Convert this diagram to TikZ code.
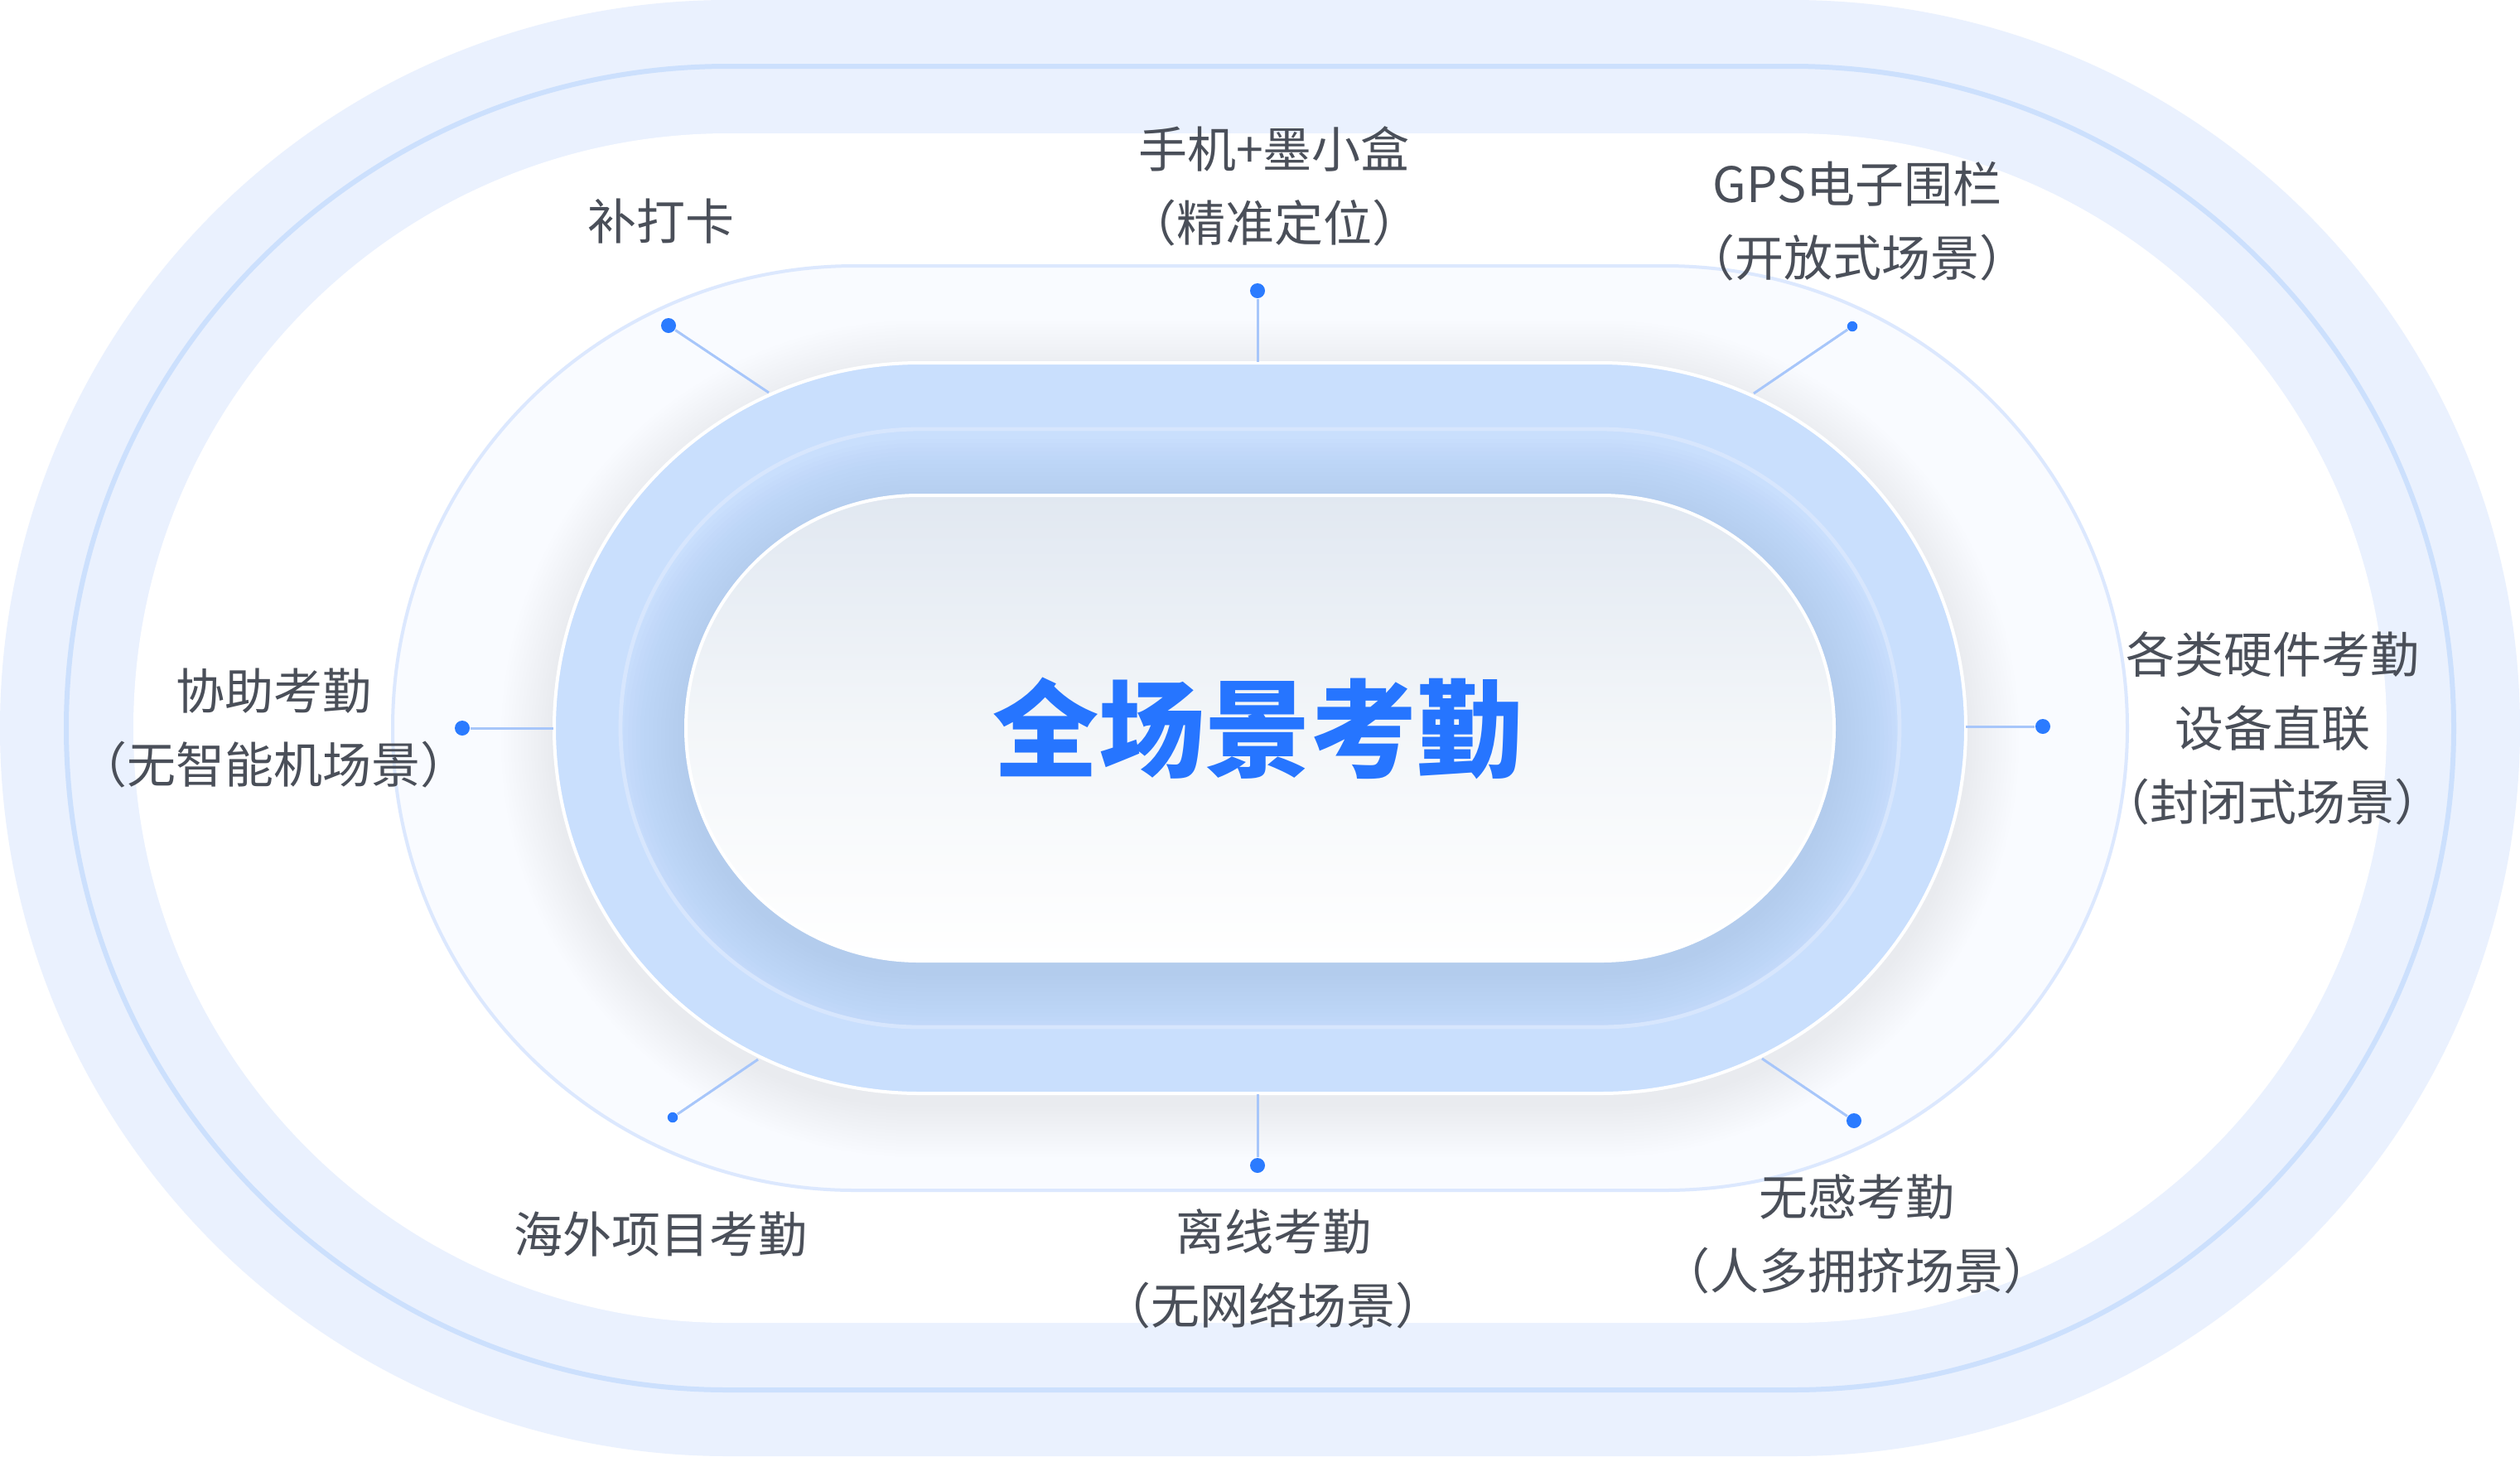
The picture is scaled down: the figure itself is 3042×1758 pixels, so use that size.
\documentclass[tikz,border=0pt]{standalone}
\usepackage{fontspec}
\newfontfamily\cjk{Noto Sans CJK SC}
\definecolor{bandc}{HTML}{EAF1FE}
\definecolor{bandline}{HTML}{CCE0FD}
\definecolor{regc}{HTML}{F9FBFF}
\definecolor{regline}{HTML}{DCE8FE}
\definecolor{bluec}{HTML}{C9DFFD}
\definecolor{blueline}{HTML}{D7E6FD}
\definecolor{shadc}{HTML}{8AA6D6}
\definecolor{hazec}{HTML}{AEB8CC}
\definecolor{pilltop}{HTML}{E1E8F1}
\definecolor{pillmid}{HTML}{F3F6F9}
\definecolor{titlec}{HTML}{2675FF}
\definecolor{lblc}{HTML}{4A4F59}
\definecolor{dotc}{HTML}{2B7BFF}
\definecolor{connc}{HTML}{A7C6FA}
\newcommand\stad[4]{({#1},{#3-(#4)}) -- ({#2},{#3-(#4)}) arc[start angle=-90,end angle=90,radius={#4}] -- ({#1},{#3+(#4)}) arc[start angle=90,end angle=270,radius={#4}] -- cycle}
\begin{document}
\begin{tikzpicture}[x=0.25pt,y=-0.25pt,
  lbl/.style={font=\cjk\fontsize{14.75pt}{22.25pt}\selectfont, text=lblc, align=center, inner sep=0pt},
  dotbig/.style={circle, fill=dotc, minimum size=4.5pt, inner sep=0pt},
  dotsmall/.style={circle, fill=dotc, minimum size=3.1pt, inner sep=0pt},
  conn/.style={draw=connc, line width=0.75pt}]
\useasboundingbox (0,0) rectangle (3042,1758);
\fill[white] (0,0) rectangle (3042,1758);
% outer band
\fill[bandc] \stad{879}{2163}{879}{879};
\draw[bandline, line width=1.5pt] \stad{879}{2163}{879}{799};
\fill[white] \stad{879}{2163}{879}{718};
% second region
\filldraw[fill=regc, draw=regline, line width=1pt] \stad{1032}{2010}{879}{558};
% haze around blue ring
\foreach \k in {1,...,16}{
  \pgfmathsetmacro\rr{441+4*\k}
  \fill[hazec, opacity=0.011] \stad{1110}{1932}{892}{\rr};
}
% blue ring
\filldraw[fill=bluec, draw=white, line width=1pt] \stad{1110}{1932}{879}{441};
\begin{scope}
  \clip \stad{1110}{1932}{879}{361};
  \foreach \k in {1,...,16}{
    \pgfmathsetmacro\rr{281+5*\k}
    \fill[shadc, opacity=0.019] \stad{1109}{1933}{891}{\rr};
  }
\end{scope}
\draw[blueline, line width=1.2pt] \stad{1110}{1932}{879}{361};
% inner pill
\shade[top color=pilltop, bottom color=white, middle color=pillmid] \stad{1109}{1933}{879}{281};
\draw[white, line width=1pt] \stad{1109}{1933}{879}{281};
\node[font=\cjk\bfseries\fontsize{32pt}{38pt}\selectfont, text=titlec, inner sep=0pt] (title) at (1518,879) {全场景考勤};
% dots and edge points
\node[dotbig] (d1) at (807,393) {};
\coordinate (e1) at (928,474);
\node[dotbig] (d2) at (1518,351) {};
\coordinate (e2) at (1518,437);
\node[dotsmall] (d3) at (2236,394) {};
\coordinate (e3) at (2117,475);
\node[dotbig] (d4) at (558,879) {};
\coordinate (e4) at (668,879);
\node[dotbig] (d5) at (2466,877) {};
\coordinate (e5) at (2373,877);
\node[dotsmall] (d6) at (812,1349) {};
\coordinate (e6) at (915,1279);
\node[dotbig] (d7) at (1518,1407) {};
\coordinate (e7) at (1518,1321);
\node[dotbig] (d8) at (2238,1353) {};
\coordinate (e8) at (2127,1278);
\foreach \i in {1,...,8}{ \draw[conn] (d\i) -- (e\i); }
% labels
\node[lbl] (l1) at (798,267) {补打卡};
\node[lbl] (l2) at (1538,225) {手机+墨小盒\\（精准定位）};
\node[lbl] (l3) at (2242,267) {GPS电子围栏\\（开放式场景）};
\node[lbl] (l4) at (330,879) {协助考勤\\（无智能机场景）};
\node[lbl] (l5) at (2743,879) {各类硬件考勤\\设备直联\\（封闭式场景）};
\node[lbl] (l6) at (797,1490) {海外项目考勤};
\node[lbl] (l7) at (1537,1532) {离线考勤\\（无网络场景）};
\node[lbl] (l8) at (2241,1490) {无感考勤\\（人多拥挤场景）};
\end{tikzpicture}
\end{document}
